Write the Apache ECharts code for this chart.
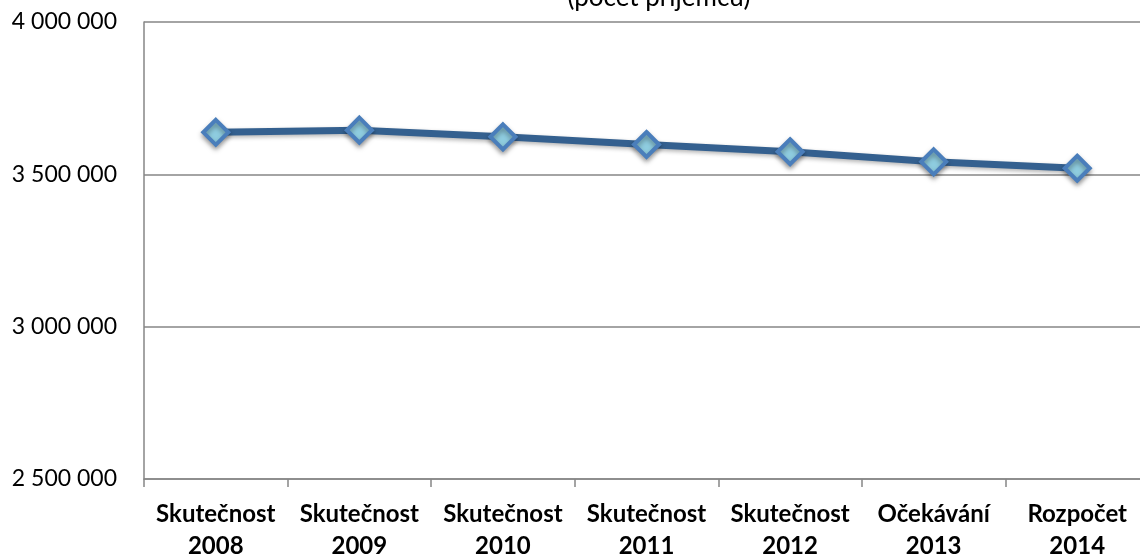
<!DOCTYPE html>
<html>
<head>
<meta charset="utf-8">
<script src="https://cdn.jsdelivr.net/npm/echarts@6/dist/echarts.min.js"></script>
<style>
  html, body { margin: 0; padding: 0; background: #fff; }
</style>
</head>
<body>
<div id="myChart" style="width: 1140px; height: 555px;"></div>
<script>
  // data
  const categories = ['Skutečnost\n2008', 'Skutečnost\n2009', 'Skutečnost\n2010', 'Skutečnost\n2011',
                      'Skutečnost\n2012', 'Očekávání\n2013', 'Rozpočet\n2014'];
  const recipients = [3638000, 3645000, 3623000, 3598000, 3574000, 3541000, 3520000];
  const yMin = 2500000;
  const yMax = 4000000;
  const yStep = 500000;

  const font = 'Lato, "Open Sans", "Noto Sans", sans-serif';
  const axisGrey = '#868686';

  let myChart = echarts.init(document.getElementById('myChart'));

  myChart.setOption({
    animation: false,
    title: {
      text: '(počet příjemců)',
      left: 654,
      textAlign: 'center',
      top: -20,
      textStyle: {
        color: '#000000',
        fontFamily: font,
        fontWeight: 'normal',
        fontSize: 26
      }
    },
    grid: {
      left: 144,
      right: -9,
      top: 22,
      bottom: 76,
      outerBoundsMode: 'none',
      containLabel: false
    },
    xAxis: {
      type: 'category',
      data: categories,
      boundaryGap: true,
      axisLine: { lineStyle: { color: axisGrey, width: 1.5 } },
      axisTick: { show: true, length: 8, lineStyle: { color: axisGrey, width: 1.5 } },
      axisLabel: {
        interval: 0,
        margin: 19,
        color: '#000000',
        fontFamily: font,
        fontWeight: 'bold',
        fontSize: 24,
        lineHeight: 32
      }
    },
    yAxis: {
      type: 'value',
      min: yMin,
      max: yMax,
      interval: yStep,
      axisLine: { show: true, lineStyle: { color: axisGrey, width: 1.5 } },
      axisTick: { show: false },
      splitLine: { lineStyle: { color: axisGrey, width: 1.5 } },
      axisLabel: {
        margin: 27,
        color: '#000000',
        fontFamily: font,
        fontSize: 23,
        formatter: function (v) {
          return String(v).replace(/\B(?=(\d{3})+(?!\d))/g, ' ');
        }
      }
    },
    series: [{
      type: 'line',
      data: recipients,
      symbol: 'diamond',
      symbolSize: 25,
      lineStyle: {
        color: '#34608f',
        width: 7,
        shadowColor: 'rgba(0,0,0,0.3)',
        shadowBlur: 4,
        shadowOffsetY: 2
      },
      itemStyle: {
        color: '#8fcde0',
        borderColor: '#4a7ebb',
        borderWidth: 4,
        shadowColor: 'rgba(0,0,0,0.35)',
        shadowBlur: 5,
        shadowOffsetY: 3
      }
    }]
  });
</script>
</body>
</html>
